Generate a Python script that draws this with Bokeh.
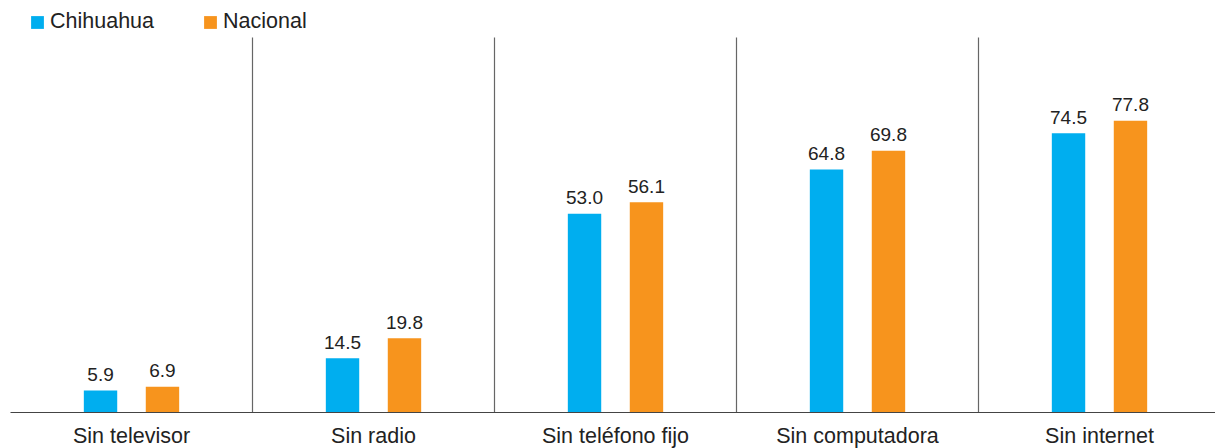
from bokeh.plotting import figure
from bokeh.models import ColumnDataSource, Range1d, FixedTicker, Legend, LegendItem
from bokeh.core.properties import value
from bokeh.embed import file_html
from bokeh.resources import INLINE

categories = ["Sin televisor", "Sin radio", "Sin teléfono fijo", "Sin computadora", "Sin internet"]
chihuahua = [5.9, 14.5, 53.0, 64.8, 74.5]
nacional = [6.9, 19.8, 56.1, 69.8, 77.8]
series_names = ["Chihuahua", "Nacional"]

BLUE = "#00AEEF"
ORANGE = "#F7941D"
FONT = "Liberation Sans"

centers = [i + 0.5 for i in range(len(categories))]
off = 0.128
bw = 0.138

src_c = ColumnDataSource(dict(x=[c - off for c in centers], top=chihuahua,
                              lab=[f"{v:.1f}" for v in chihuahua]))
src_n = ColumnDataSource(dict(x=[c + off for c in centers], top=nacional,
                              lab=[f"{v:.1f}" for v in nacional]))

p = figure(frame_width=1205, frame_height=412, output_backend="svg", toolbar_location=None,
           x_range=Range1d(0, 1205 / 242), y_range=Range1d(0, 412 / 3.75),
           min_border_left=10, min_border_right=0, min_border_top=0, min_border_bottom=0)
p.outline_line_color = None
p.grid.grid_line_color = None
p.yaxis.visible = False
p.background_fill_color = "white"

# separators
p.segment(x0=[1, 2, 3, 4], y0=[0] * 4, x1=[1, 2, 3, 4], y1=[100] * 4,
          line_color="#666666", line_width=1.2)

rc = p.vbar(x="x", top="top", width=bw, source=src_c, fill_color=BLUE, line_color=None)
rn = p.vbar(x="x", top="top", width=bw, source=src_n, fill_color=ORANGE, line_color=None)

for s in (src_c, src_n):
    p.text(x="x", y="top", text="lab", source=s, text_align="center", text_baseline="alphabetic",
           y_offset=-16, text_font=value(FONT), text_font_size="19px", text_color="#222222")

ax = p.xaxis[0]
ax.ticker = FixedTicker(ticks=centers)
ax.major_label_overrides = {c: n for c, n in zip(centers, categories)}
ax.major_tick_line_color = None
ax.minor_tick_line_color = None
ax.axis_line_color = "#444444"
ax.axis_line_width = 1.2
ax.major_label_text_font = FONT
ax.major_label_text_font_size = "21.5px"
ax.major_label_text_color = "#222222"
ax.major_label_standoff = 5

legend = Legend(items=[LegendItem(label=series_names[0], renderers=[rc]),
                       LegendItem(label=series_names[1], renderers=[rn])],
                orientation="horizontal", location=(19, 378),
                glyph_width=16, glyph_height=16, label_text_font=FONT,
                label_text_font_size="21.5px", label_text_color="#222222",
                border_line_color=None, background_fill_alpha=0, padding=0, margin=0,
                spacing=48, label_standoff=5)
p.add_layout(legend, "center")

open("out.html", "w").write(file_html(p, INLINE))
